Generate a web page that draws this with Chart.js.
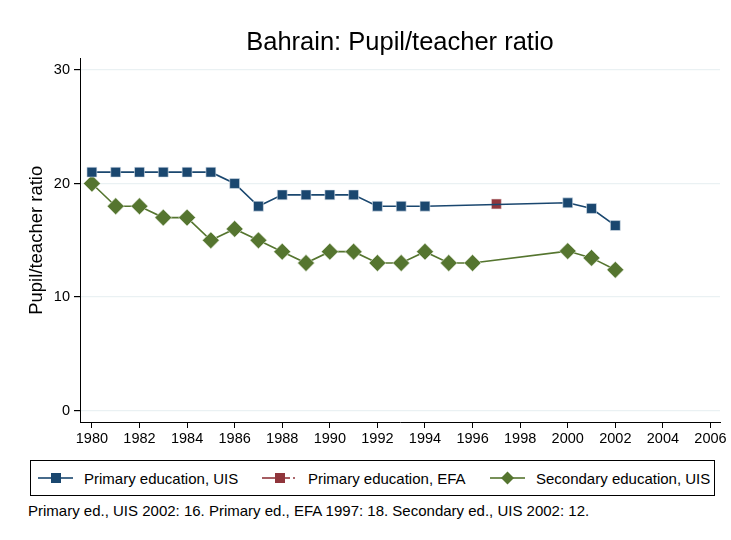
<!DOCTYPE html>
<html>
<head>
<meta charset="utf-8">
<script src="https://cdn.jsdelivr.net/npm/chart.js@4/dist/chart.umd.min.js"></script>
<style>
  body { margin: 0; background: #fff; font-family: "Liberation Sans", Arial, sans-serif; }
  #wrap { position: relative; width: 731px; height: 540px; }
  #chart { position: absolute; left: 0; top: 0; }
  #legend {
    position: absolute; left: 30px; top: 460px; width: 685px; height: 36px;
    border: 1px solid #000; box-sizing: border-box; font-size: 15px; color: #000;
  }
  .item { display: flex; align-items: center; position: absolute; top: 7px; }
  .item svg { margin-right: 11px; }
  #note { position: absolute; left: 28px; top: 502px; font-size: 15px; color: #000; }
</style>
</head>
<body>
<div id="wrap">
  <canvas id="chart" width="731" height="450"></canvas>
  <div id="legend"></div>
  <div id="note">Primary ed., UIS 2002: 16. Primary ed., EFA 1997: 18. Secondary ed., UIS 2002: 12.</div>
</div>
<script>
// ===== DATA =====
const primaryYears = [1980,1981,1982,1983,1984,1985,1986,1987,1988,1989,1990,1991,1992,1993,1994,2000,2001,2002];
const primaryUIS   = [21,21,21,21,21,21,20,18,19,19,19,19,18,18,18,18.3,17.8,16.3];

const efaYears = [1997];
const primaryEFA = [18.2];

const secondaryYears = [1980,1981,1982,1983,1984,1985,1986,1987,1988,1989,1990,1991,1992,1993,1994,1995,1996,2000,2001,2002];
const secondaryUIS   = [20,18,18,17,17,15,16,15,14,13,14,14,13,13,14,13,13,14.05,13.45,12.4];

const xTicks = [1980,1982,1984,1986,1988,1990,1992,1994,1996,1998,2000,2002,2004,2006];
const yTicks = [0,10,20,30];

const seriesNames = ["Primary education, UIS", "Primary education, EFA", "Secondary education, UIS"];
const blue = "#1a476f", red = "#90353b", green = "#55752f";

const toPoints = (xs, ys) => xs.map((x, i) => ({ x: x, y: ys[i] }));

const font = "'Liberation Sans', Arial, sans-serif";

new Chart(document.getElementById("chart"), {
    type: "line",
    data: {
        datasets: [
            {
                label: seriesNames[0],
                data: toPoints(primaryYears, primaryUIS),
                borderColor: blue, backgroundColor: blue,
                borderWidth: 1.6, pointStyle: "rect", pointRadius: 7,
                pointBorderColor: "#dde6ee", pointBorderWidth: 0.6
            },
            {
                label: seriesNames[1],
                data: toPoints(efaYears, primaryEFA),
                borderColor: red, backgroundColor: red, borderDash: [6, 4],
                borderWidth: 1.6, pointStyle: "rect", pointRadius: 7,
                pointBorderColor: "#eadcdc", pointBorderWidth: 0.6
            },
            {
                label: seriesNames[2],
                data: toPoints(secondaryYears, secondaryUIS),
                borderColor: green, backgroundColor: green,
                borderWidth: 1.6, pointStyle: "rectRot", pointRadius: 8.4,
                pointBorderColor: "#e0e8d8", pointBorderWidth: 0.6
            }
        ]
    },
    options: {
        responsive: false,
        animation: false,
        layout: { padding: { left: 0, right: 11, top: 0, bottom: 0 } },
        plugins: {
            legend: { display: false },
            tooltip: { enabled: false },
            title: {
                display: true,
                text: "Bahrain: Pupil/teacher ratio",
                fullSize: false,
                color: "#000",
                font: { family: font, size: 25.5, weight: "normal" },
                padding: { top: 28, bottom: 0 }
            }
        },
        scales: {
            x: {
                type: "linear",
                min: 1979.5, max: 2006.4,
                afterBuildTicks: s => { s.ticks = xTicks.map(v => ({ value: v })); },
                afterFit: s => { s.height = 28; s.paddingLeft = 0; s.paddingRight = 0; },
                ticks: { color: "#000", font: { family: font, size: 14.5 }, maxRotation: 0, padding: 2,
                         callback: v => String(v) },
                grid: { drawOnChartArea: false, tickLength: 6, tickColor: "#000" },
                border: { color: "#000", width: 1 }
            },
            y: {
                min: -1, max: 31,
                afterBuildTicks: s => { s.ticks = yTicks.map(v => ({ value: v })); },
                afterFit: s => { s.width = 80; },
                ticks: { color: "#000", font: { family: font, size: 14.5 }, padding: 4 },
                grid: { color: "#eaf1f3", lineWidth: 1.2, tickLength: 6, tickColor: "#000" },
                border: { color: "#000", width: 1 },
                title: { display: true, text: "Pupil/teacher ratio", color: "#000",
                         font: { family: font, size: 18.5 }, padding: { top: 26, bottom: 0 } }
            }
        }
    }
});

// ===== LEGEND (HTML, Stata-style boxed) =====
const legendItems = [
    { name: seriesNames[0], color: blue, shape: "square", dash: false, left: 7 },
    { name: seriesNames[1], color: red, shape: "square", dash: true, left: 231 },
    { name: seriesNames[2], color: green, shape: "diamond", dash: false, left: 459 }
];
const legend = document.getElementById("legend");
legendItems.forEach(it => {
    const div = document.createElement("div");
    div.className = "item";
    div.style.left = it.left + "px";
    const right = it.dash
        ? `<line x1="22" y1="10" x2="28" y2="10" stroke="${it.color}" stroke-width="1.6"/><line x1="31" y1="10" x2="33" y2="10" stroke="${it.color}" stroke-width="1.6"/>`
        : `<line x1="18" y1="10" x2="35" y2="10" stroke="${it.color}" stroke-width="1.6"/>`;
    const marker = it.shape === "square"
        ? `<rect x="13" y="5" width="10" height="10" fill="${it.color}"/>`
        : `<polygon points="17.5,3.5 24,10 17.5,16.5 11,10" fill="${it.color}"/>`;
    div.innerHTML = `<svg width="35" height="20"><line x1="0" y1="10" x2="17" y2="10" stroke="${it.color}" stroke-width="1.6"/>${right}${marker}</svg><span>${it.name}</span>`;
    legend.appendChild(div);
});
</script>
</body>
</html>
